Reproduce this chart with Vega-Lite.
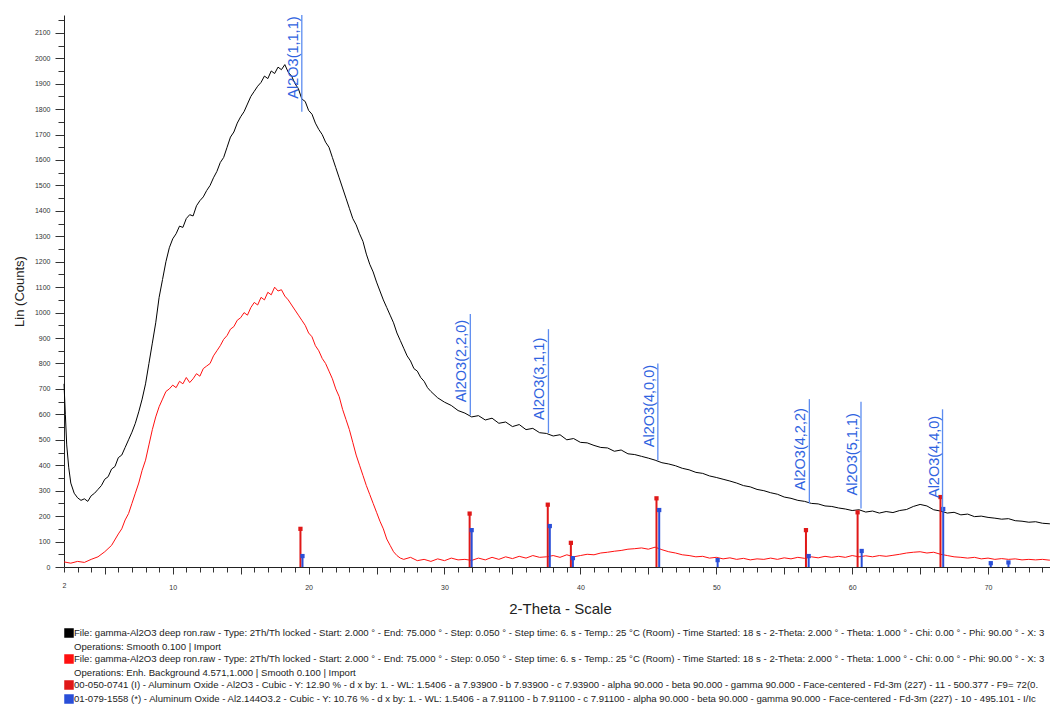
{
  "$schema": "https://vega.github.io/schema/vega-lite/v6.json",
  "width": 992,
  "height": 552,
  "padding": {"left": 13, "top": 15, "right": 0, "bottom": 0},
  "background": "white",
  "config": {
    "view": {"stroke": null},
    "font": "Liberation Sans",
    "axis": {"labelOverlap": false},
    "style": {"guide-label": {"lineHeight": 13.6}}
  },
  "datasets": {
    "scan": [
      {"t":2.0,"c":720,"s":"s1"},{"t":2.1,"c":600,"s":"s1"},{"t":2.2,"c":480,"s":"s1"},{"t":2.35,"c":390,"s":"s1"},{"t":2.5,"c":330,"s":"s1"},{"t":2.75,"c":290,"s":"s1"},{"t":3.0,"c":272,"s":"s1"},{"t":3.25,"c":262,"s":"s1"},{"t":3.5,"c":268,"s":"s1"},{"t":3.75,"c":258,"s":"s1"},{"t":4.0,"c":280,"s":"s1"},{"t":4.25,"c":290,"s":"s1"},{"t":4.5,"c":305,"s":"s1"},{"t":4.75,"c":320,"s":"s1"},{"t":5.0,"c":345,"s":"s1"},{"t":5.25,"c":355,"s":"s1"},{"t":5.5,"c":385,"s":"s1"},{"t":5.75,"c":395,"s":"s1"},{"t":6.0,"c":430,"s":"s1"},{"t":6.25,"c":440,"s":"s1"},{"t":6.5,"c":470,"s":"s1"},{"t":6.75,"c":500,"s":"s1"},{"t":7.0,"c":530,"s":"s1"},{"t":7.25,"c":565,"s":"s1"},{"t":7.5,"c":610,"s":"s1"},{"t":7.75,"c":660,"s":"s1"},{"t":8.0,"c":720,"s":"s1"},{"t":8.25,"c":800,"s":"s1"},{"t":8.5,"c":880,"s":"s1"},{"t":8.75,"c":960,"s":"s1"},{"t":9.0,"c":1060,"s":"s1"},{"t":9.25,"c":1130,"s":"s1"},{"t":9.5,"c":1200,"s":"s1"},{"t":9.75,"c":1255,"s":"s1"},{"t":10.0,"c":1290,"s":"s1"},{"t":10.25,"c":1310,"s":"s1"},{"t":10.5,"c":1340,"s":"s1"},{"t":10.75,"c":1335,"s":"s1"},{"t":11.0,"c":1370,"s":"s1"},{"t":11.25,"c":1385,"s":"s1"},{"t":11.5,"c":1380,"s":"s1"},{"t":11.75,"c":1420,"s":"s1"},{"t":12.0,"c":1440,"s":"s1"},{"t":12.25,"c":1455,"s":"s1"},{"t":12.5,"c":1480,"s":"s1"},{"t":12.75,"c":1500,"s":"s1"},{"t":13.0,"c":1530,"s":"s1"},{"t":13.25,"c":1555,"s":"s1"},{"t":13.5,"c":1590,"s":"s1"},{"t":13.75,"c":1610,"s":"s1"},{"t":14.0,"c":1650,"s":"s1"},{"t":14.25,"c":1690,"s":"s1"},{"t":14.5,"c":1710,"s":"s1"},{"t":14.75,"c":1745,"s":"s1"},{"t":15.0,"c":1770,"s":"s1"},{"t":15.25,"c":1790,"s":"s1"},{"t":15.5,"c":1820,"s":"s1"},{"t":15.75,"c":1850,"s":"s1"},{"t":16.0,"c":1870,"s":"s1"},{"t":16.25,"c":1890,"s":"s1"},{"t":16.5,"c":1905,"s":"s1"},{"t":16.75,"c":1930,"s":"s1"},{"t":17.0,"c":1920,"s":"s1"},{"t":17.25,"c":1950,"s":"s1"},{"t":17.5,"c":1940,"s":"s1"},{"t":17.75,"c":1965,"s":"s1"},{"t":18.0,"c":1955,"s":"s1"},{"t":18.25,"c":1975,"s":"s1"},{"t":18.5,"c":1945,"s":"s1"},{"t":18.75,"c":1930,"s":"s1"},{"t":19.0,"c":1900,"s":"s1"},{"t":19.25,"c":1880,"s":"s1"},{"t":19.5,"c":1840,"s":"s1"},{"t":19.75,"c":1830,"s":"s1"},{"t":20.0,"c":1795,"s":"s1"},{"t":20.25,"c":1780,"s":"s1"},{"t":20.5,"c":1745,"s":"s1"},{"t":20.75,"c":1720,"s":"s1"},{"t":21.0,"c":1700,"s":"s1"},{"t":21.25,"c":1670,"s":"s1"},{"t":21.5,"c":1650,"s":"s1"},{"t":21.75,"c":1610,"s":"s1"},{"t":22.0,"c":1570,"s":"s1"},{"t":22.25,"c":1530,"s":"s1"},{"t":22.5,"c":1490,"s":"s1"},{"t":22.75,"c":1450,"s":"s1"},{"t":23.0,"c":1410,"s":"s1"},{"t":23.25,"c":1370,"s":"s1"},{"t":23.5,"c":1345,"s":"s1"},{"t":23.75,"c":1310,"s":"s1"},{"t":24.0,"c":1280,"s":"s1"},{"t":24.25,"c":1230,"s":"s1"},{"t":24.5,"c":1190,"s":"s1"},{"t":24.75,"c":1160,"s":"s1"},{"t":25.0,"c":1120,"s":"s1"},{"t":25.25,"c":1085,"s":"s1"},{"t":25.5,"c":1050,"s":"s1"},{"t":25.75,"c":1020,"s":"s1"},{"t":26.0,"c":990,"s":"s1"},{"t":26.25,"c":960,"s":"s1"},{"t":26.5,"c":920,"s":"s1"},{"t":26.75,"c":890,"s":"s1"},{"t":27.0,"c":860,"s":"s1"},{"t":27.25,"c":830,"s":"s1"},{"t":27.5,"c":810,"s":"s1"},{"t":27.75,"c":780,"s":"s1"},{"t":28.0,"c":770,"s":"s1"},{"t":28.25,"c":745,"s":"s1"},{"t":28.5,"c":730,"s":"s1"},{"t":28.75,"c":705,"s":"s1"},{"t":29.0,"c":690,"s":"s1"},{"t":29.5,"c":665,"s":"s1"},{"t":30.0,"c":648,"s":"s1"},{"t":30.5,"c":635,"s":"s1"},{"t":31.0,"c":615,"s":"s1"},{"t":31.5,"c":605,"s":"s1"},{"t":32.0,"c":590,"s":"s1"},{"t":32.5,"c":595,"s":"s1"},{"t":33.0,"c":578,"s":"s1"},{"t":33.5,"c":585,"s":"s1"},{"t":34.0,"c":565,"s":"s1"},{"t":34.5,"c":570,"s":"s1"},{"t":35.0,"c":552,"s":"s1"},{"t":35.5,"c":560,"s":"s1"},{"t":36.0,"c":540,"s":"s1"},{"t":36.5,"c":545,"s":"s1"},{"t":37.0,"c":528,"s":"s1"},{"t":37.5,"c":525,"s":"s1"},{"t":38.0,"c":515,"s":"s1"},{"t":38.5,"c":520,"s":"s1"},{"t":39.0,"c":500,"s":"s1"},{"t":39.5,"c":505,"s":"s1"},{"t":40.0,"c":490,"s":"s1"},{"t":40.5,"c":488,"s":"s1"},{"t":41.0,"c":478,"s":"s1"},{"t":41.5,"c":470,"s":"s1"},{"t":42.0,"c":468,"s":"s1"},{"t":42.5,"c":455,"s":"s1"},{"t":43.0,"c":460,"s":"s1"},{"t":43.5,"c":445,"s":"s1"},{"t":44.0,"c":442,"s":"s1"},{"t":44.5,"c":435,"s":"s1"},{"t":45.0,"c":428,"s":"s1"},{"t":45.5,"c":420,"s":"s1"},{"t":46.0,"c":410,"s":"s1"},{"t":46.5,"c":405,"s":"s1"},{"t":47.0,"c":398,"s":"s1"},{"t":47.5,"c":388,"s":"s1"},{"t":48.0,"c":382,"s":"s1"},{"t":48.5,"c":372,"s":"s1"},{"t":49.0,"c":368,"s":"s1"},{"t":49.5,"c":358,"s":"s1"},{"t":50.0,"c":352,"s":"s1"},{"t":50.5,"c":345,"s":"s1"},{"t":51.0,"c":338,"s":"s1"},{"t":51.5,"c":330,"s":"s1"},{"t":52.0,"c":320,"s":"s1"},{"t":52.5,"c":315,"s":"s1"},{"t":53.0,"c":305,"s":"s1"},{"t":53.5,"c":300,"s":"s1"},{"t":54.0,"c":292,"s":"s1"},{"t":54.5,"c":286,"s":"s1"},{"t":55.0,"c":275,"s":"s1"},{"t":55.5,"c":270,"s":"s1"},{"t":56.0,"c":262,"s":"s1"},{"t":56.5,"c":258,"s":"s1"},{"t":57.0,"c":250,"s":"s1"},{"t":57.5,"c":248,"s":"s1"},{"t":58.0,"c":240,"s":"s1"},{"t":58.5,"c":238,"s":"s1"},{"t":59.0,"c":232,"s":"s1"},{"t":59.5,"c":228,"s":"s1"},{"t":60.0,"c":222,"s":"s1"},{"t":60.5,"c":225,"s":"s1"},{"t":61.0,"c":216,"s":"s1"},{"t":61.5,"c":220,"s":"s1"},{"t":62.0,"c":212,"s":"s1"},{"t":62.5,"c":218,"s":"s1"},{"t":63.0,"c":214,"s":"s1"},{"t":63.5,"c":222,"s":"s1"},{"t":64.0,"c":226,"s":"s1"},{"t":64.5,"c":238,"s":"s1"},{"t":65.0,"c":246,"s":"s1"},{"t":65.5,"c":240,"s":"s1"},{"t":66.0,"c":225,"s":"s1"},{"t":66.5,"c":220,"s":"s1"},{"t":67.0,"c":212,"s":"s1"},{"t":67.5,"c":215,"s":"s1"},{"t":68.0,"c":205,"s":"s1"},{"t":68.5,"c":208,"s":"s1"},{"t":69.0,"c":198,"s":"s1"},{"t":69.5,"c":200,"s":"s1"},{"t":70.0,"c":195,"s":"s1"},{"t":70.5,"c":192,"s":"s1"},{"t":71.0,"c":188,"s":"s1"},{"t":71.5,"c":190,"s":"s1"},{"t":72.0,"c":182,"s":"s1"},{"t":72.5,"c":180,"s":"s1"},{"t":73.0,"c":176,"s":"s1"},{"t":73.5,"c":178,"s":"s1"},{"t":74.0,"c":172,"s":"s1"},{"t":74.5,"c":170,"s":"s1"},{"t":75.0,"c":168,"s":"s1"},
      {"t":2.0,"c":20,"s":"s2"},{"t":2.5,"c":15,"s":"s2"},{"t":3.0,"c":22,"s":"s2"},{"t":3.5,"c":18,"s":"s2"},{"t":4.0,"c":30,"s":"s2"},{"t":4.5,"c":40,"s":"s2"},{"t":5.0,"c":60,"s":"s2"},{"t":5.5,"c":85,"s":"s2"},{"t":6.0,"c":130,"s":"s2"},{"t":6.25,"c":150,"s":"s2"},{"t":6.5,"c":185,"s":"s2"},{"t":6.75,"c":210,"s":"s2"},{"t":7.0,"c":250,"s":"s2"},{"t":7.25,"c":290,"s":"s2"},{"t":7.5,"c":330,"s":"s2"},{"t":7.75,"c":380,"s":"s2"},{"t":8.0,"c":420,"s":"s2"},{"t":8.25,"c":480,"s":"s2"},{"t":8.5,"c":540,"s":"s2"},{"t":8.75,"c":590,"s":"s2"},{"t":9.0,"c":630,"s":"s2"},{"t":9.25,"c":660,"s":"s2"},{"t":9.5,"c":690,"s":"s2"},{"t":9.75,"c":700,"s":"s2"},{"t":10.0,"c":715,"s":"s2"},{"t":10.25,"c":705,"s":"s2"},{"t":10.5,"c":730,"s":"s2"},{"t":10.75,"c":720,"s":"s2"},{"t":11.0,"c":745,"s":"s2"},{"t":11.25,"c":725,"s":"s2"},{"t":11.5,"c":740,"s":"s2"},{"t":11.75,"c":760,"s":"s2"},{"t":12.0,"c":750,"s":"s2"},{"t":12.25,"c":780,"s":"s2"},{"t":12.5,"c":790,"s":"s2"},{"t":12.75,"c":800,"s":"s2"},{"t":13.0,"c":830,"s":"s2"},{"t":13.25,"c":850,"s":"s2"},{"t":13.5,"c":870,"s":"s2"},{"t":13.75,"c":895,"s":"s2"},{"t":14.0,"c":910,"s":"s2"},{"t":14.25,"c":935,"s":"s2"},{"t":14.5,"c":945,"s":"s2"},{"t":14.75,"c":970,"s":"s2"},{"t":15.0,"c":980,"s":"s2"},{"t":15.25,"c":1000,"s":"s2"},{"t":15.5,"c":990,"s":"s2"},{"t":15.75,"c":1020,"s":"s2"},{"t":16.0,"c":1040,"s":"s2"},{"t":16.25,"c":1030,"s":"s2"},{"t":16.5,"c":1060,"s":"s2"},{"t":16.75,"c":1050,"s":"s2"},{"t":17.0,"c":1080,"s":"s2"},{"t":17.25,"c":1070,"s":"s2"},{"t":17.5,"c":1100,"s":"s2"},{"t":17.75,"c":1085,"s":"s2"},{"t":18.0,"c":1090,"s":"s2"},{"t":18.25,"c":1065,"s":"s2"},{"t":18.5,"c":1050,"s":"s2"},{"t":18.75,"c":1030,"s":"s2"},{"t":19.0,"c":1010,"s":"s2"},{"t":19.25,"c":990,"s":"s2"},{"t":19.5,"c":970,"s":"s2"},{"t":19.75,"c":950,"s":"s2"},{"t":20.0,"c":920,"s":"s2"},{"t":20.25,"c":905,"s":"s2"},{"t":20.5,"c":870,"s":"s2"},{"t":20.75,"c":850,"s":"s2"},{"t":21.0,"c":820,"s":"s2"},{"t":21.25,"c":800,"s":"s2"},{"t":21.5,"c":770,"s":"s2"},{"t":21.75,"c":740,"s":"s2"},{"t":22.0,"c":700,"s":"s2"},{"t":22.25,"c":670,"s":"s2"},{"t":22.5,"c":620,"s":"s2"},{"t":22.75,"c":580,"s":"s2"},{"t":23.0,"c":540,"s":"s2"},{"t":23.25,"c":490,"s":"s2"},{"t":23.5,"c":440,"s":"s2"},{"t":23.75,"c":400,"s":"s2"},{"t":24.0,"c":360,"s":"s2"},{"t":24.25,"c":320,"s":"s2"},{"t":24.5,"c":285,"s":"s2"},{"t":24.75,"c":250,"s":"s2"},{"t":25.0,"c":215,"s":"s2"},{"t":25.25,"c":180,"s":"s2"},{"t":25.5,"c":150,"s":"s2"},{"t":25.75,"c":110,"s":"s2"},{"t":26.0,"c":85,"s":"s2"},{"t":26.25,"c":60,"s":"s2"},{"t":26.5,"c":45,"s":"s2"},{"t":26.75,"c":35,"s":"s2"},{"t":27.0,"c":30,"s":"s2"},{"t":27.5,"c":38,"s":"s2"},{"t":28.0,"c":25,"s":"s2"},{"t":28.5,"c":30,"s":"s2"},{"t":29.0,"c":22,"s":"s2"},{"t":29.5,"c":32,"s":"s2"},{"t":30.0,"c":25,"s":"s2"},{"t":30.5,"c":35,"s":"s2"},{"t":31.0,"c":28,"s":"s2"},{"t":31.5,"c":30,"s":"s2"},{"t":32.0,"c":26,"s":"s2"},{"t":32.5,"c":35,"s":"s2"},{"t":33.0,"c":28,"s":"s2"},{"t":33.5,"c":38,"s":"s2"},{"t":34.0,"c":30,"s":"s2"},{"t":34.5,"c":40,"s":"s2"},{"t":35.0,"c":33,"s":"s2"},{"t":35.5,"c":42,"s":"s2"},{"t":36.0,"c":35,"s":"s2"},{"t":36.5,"c":45,"s":"s2"},{"t":37.0,"c":38,"s":"s2"},{"t":37.5,"c":40,"s":"s2"},{"t":38.0,"c":45,"s":"s2"},{"t":38.5,"c":38,"s":"s2"},{"t":39.0,"c":48,"s":"s2"},{"t":39.5,"c":40,"s":"s2"},{"t":40.0,"c":45,"s":"s2"},{"t":40.5,"c":50,"s":"s2"},{"t":41.0,"c":48,"s":"s2"},{"t":41.5,"c":55,"s":"s2"},{"t":42.0,"c":58,"s":"s2"},{"t":42.5,"c":62,"s":"s2"},{"t":43.0,"c":65,"s":"s2"},{"t":43.5,"c":70,"s":"s2"},{"t":44.0,"c":72,"s":"s2"},{"t":44.5,"c":75,"s":"s2"},{"t":45.0,"c":70,"s":"s2"},{"t":45.5,"c":78,"s":"s2"},{"t":46.0,"c":68,"s":"s2"},{"t":46.5,"c":60,"s":"s2"},{"t":47.0,"c":55,"s":"s2"},{"t":47.5,"c":48,"s":"s2"},{"t":48.0,"c":45,"s":"s2"},{"t":48.5,"c":40,"s":"s2"},{"t":49.0,"c":42,"s":"s2"},{"t":49.5,"c":35,"s":"s2"},{"t":50.0,"c":38,"s":"s2"},{"t":50.5,"c":32,"s":"s2"},{"t":51.0,"c":36,"s":"s2"},{"t":51.5,"c":30,"s":"s2"},{"t":52.0,"c":34,"s":"s2"},{"t":52.5,"c":28,"s":"s2"},{"t":53.0,"c":32,"s":"s2"},{"t":53.5,"c":30,"s":"s2"},{"t":54.0,"c":35,"s":"s2"},{"t":54.5,"c":30,"s":"s2"},{"t":55.0,"c":36,"s":"s2"},{"t":55.5,"c":32,"s":"s2"},{"t":56.0,"c":38,"s":"s2"},{"t":56.5,"c":34,"s":"s2"},{"t":57.0,"c":40,"s":"s2"},{"t":57.5,"c":36,"s":"s2"},{"t":58.0,"c":42,"s":"s2"},{"t":58.5,"c":38,"s":"s2"},{"t":59.0,"c":42,"s":"s2"},{"t":59.5,"c":38,"s":"s2"},{"t":60.0,"c":45,"s":"s2"},{"t":60.5,"c":40,"s":"s2"},{"t":61.0,"c":44,"s":"s2"},{"t":61.5,"c":40,"s":"s2"},{"t":62.0,"c":45,"s":"s2"},{"t":62.5,"c":42,"s":"s2"},{"t":63.0,"c":46,"s":"s2"},{"t":63.5,"c":50,"s":"s2"},{"t":64.0,"c":55,"s":"s2"},{"t":64.5,"c":58,"s":"s2"},{"t":65.0,"c":60,"s":"s2"},{"t":65.5,"c":55,"s":"s2"},{"t":66.0,"c":58,"s":"s2"},{"t":66.5,"c":50,"s":"s2"},{"t":67.0,"c":45,"s":"s2"},{"t":67.5,"c":40,"s":"s2"},{"t":68.0,"c":38,"s":"s2"},{"t":68.5,"c":35,"s":"s2"},{"t":69.0,"c":38,"s":"s2"},{"t":69.5,"c":32,"s":"s2"},{"t":70.0,"c":35,"s":"s2"},{"t":70.5,"c":30,"s":"s2"},{"t":71.0,"c":33,"s":"s2"},{"t":71.5,"c":30,"s":"s2"},{"t":72.0,"c":32,"s":"s2"},{"t":72.5,"c":28,"s":"s2"},{"t":73.0,"c":30,"s":"s2"},{"t":73.5,"c":28,"s":"s2"},{"t":74.0,"c":30,"s":"s2"},{"t":74.5,"c":27,"s":"s2"},{"t":75.0,"c":28,"s":"s2"}
    ],
    "sticks": [
      {"t":19.4,"h":150,"s":"s3"},{"t":31.85,"h":210,"s":"s3"},{"t":37.6,"h":245,"s":"s3"},{"t":39.3,"h":95,"s":"s3"},{"t":45.6,"h":270,"s":"s3"},{"t":56.6,"h":145,"s":"s3"},{"t":60.4,"h":215,"s":"s3"},{"t":66.5,"h":275,"s":"s3"},
      {"t":19.55,"h":43,"s":"s4"},{"t":32.0,"h":145,"s":"s4"},{"t":37.75,"h":161,"s":"s4"},{"t":39.45,"h":35,"s":"s4"},{"t":45.8,"h":224,"s":"s4"},{"t":50.1,"h":27,"s":"s4"},{"t":56.8,"h":43,"s":"s4"},{"t":60.7,"h":63,"s":"s4"},{"t":66.7,"h":228,"s":"s4"},{"t":70.2,"h":15,"s":"s4"},{"t":71.5,"h":18,"s":"s4"}
    ],
    "labels": [
      {"t":19.5,"base":1790,"top":2170,"label":"Al2O3(1,1,1)"},
      {"t":31.9,"base":597,"top":995,"label":"Al2O3(2,2,0)"},
      {"t":37.65,"base":527,"top":935,"label":"Al2O3(3,1,1)"},
      {"t":45.7,"base":420,"top":800,"label":"Al2O3(4,0,0)"},
      {"t":56.85,"base":250,"top":660,"label":"Al2O3(4,2,2)"},
      {"t":60.65,"base":230,"top":650,"label":"Al2O3(5,1,1)"},
      {"t":66.65,"base":220,"top":620,"label":"Al2O3(4,4,0)"}
    ]
  },
  "layer": [
    {
      "data": {"name": "scan"},
      "mark": {"type": "line", "strokeWidth": 1},
      "encoding": {
        "x": {
          "field": "t",
          "type": "quantitative",
          "scale": {"domain": [2, 75], "nice": false, "zero": false},
          "axis": {
            "title": "2-Theta - Scale",
            "titleFontSize": 15,
            "titleFontWeight": "normal",
            "titleColor": "#222",
            "titlePadding": 11,
            "tickCount": 500,
            "format": "d",
            "values": [2,3,4,5,6,7,8,9,10,11,12,13,14,15,16,17,18,19,20,21,22,23,24,25,26,27,28,29,30,31,32,33,34,35,36,37,38,39,40,41,42,43,44,45,46,47,48,49,50,51,52,53,54,55,56,57,58,59,60,61,62,63,64,65,66,67,68,69,70,71,72,73,74,75],
            "labelExpr": "(datum.value == 2 || datum.value % 10 == 0) ? datum.label : ''",
            "labelFontSize": 7,
            "labelColor": "#333",
            "labelPadding": 9,
            "tickSize": {"condition": {"test": "datum.value % 5 == 0", "value": 7}, "value": 5},
            "tickColor": "#333",
            "domainColor": "#222",
            "grid": false,
            "labelOverlap": false,
            "labelFlush": false
          }
        },
        "y": {
          "field": "c",
          "type": "quantitative",
          "scale": {"domain": [0, 2170], "nice": false},
          "axis": {
            "title": "Lin (Counts)",
            "titleFontSize": 13,
            "titleFontWeight": "normal",
            "titleColor": "#222",
            "titlePadding": 8,
            "tickCount": 500,
            "values": [0,50,100,150,200,250,300,350,400,450,500,550,600,650,700,750,800,850,900,950,1000,1050,1100,1150,1200,1250,1300,1350,1400,1450,1500,1550,1600,1650,1700,1750,1800,1850,1900,1950,2000,2050,2100,2150],
            "labelExpr": "datum.value % 100 == 0 ? datum.label : ''",
            "format": "d",
            "labelFontSize": 7,
            "labelColor": "#333",
            "labelPadding": 5,
            "tickSize": {"condition": {"test": "datum.value % 100 == 0", "value": 9}, "value": 6},
            "tickColor": "#333",
            "domainColor": "#222",
            "grid": false,
            "labelOverlap": false
          }
        },
        "color": {"field": "s", "type": "nominal",
          "scale": {"domain": ["s1","s2","s3","s4"], "range": ["#000000","#ff1010","#e01818","#2a4fd8"]},
          "legend": {
            "orient": "bottom",
            "direction": "vertical",
            "columns": 1,
            "title": null,
            "offset": 12,
            "symbolType": "square",
            "symbolSize": 64,
            "symbolStrokeWidth": 1.5,
            "labelFontSize": 9.6,
            "labelColor": "#222",
            "labelLimit": 3000,
            "labelOffset": 0,
            "rowPadding": 0,
            "labelExpr": "datum.value == 's1' ? ['File: gamma-Al2O3 deep ron.raw - Type: 2Th/Th locked - Start: 2.000 ° - End: 75.000 ° - Step: 0.050 ° - Step time: 6. s - Temp.: 25 °C (Room) - Time Started: 18 s - 2-Theta: 2.000 ° - Theta: 1.000 ° - Chi: 0.00 ° - Phi: 90.00 ° - X: 3', 'Operations: Smooth 0.100 | Import'] : datum.value == 's2' ? ['File: gamma-Al2O3 deep ron.raw - Type: 2Th/Th locked - Start: 2.000 ° - End: 75.000 ° - Step: 0.050 ° - Step time: 6. s - Temp.: 25 °C (Room) - Time Started: 18 s - 2-Theta: 2.000 ° - Theta: 1.000 ° - Chi: 0.00 ° - Phi: 90.00 ° - X: 3', 'Operations: Enh. Background 4.571,1.000 | Smooth 0.100 | Import'] : datum.value == 's3' ? '00-050-0741 (I) - Aluminum Oxide - Al2O3 - Cubic - Y: 12.90 % - d x by: 1. - WL: 1.5406 - a 7.93900 - b 7.93900 - c 7.93900 - alpha 90.000 - beta 90.000 - gamma 90.000 - Face-centered - Fd-3m (227) - 11 - 500.377 - F9= 72(0.' : '01-079-1558 (*) - Aluminum Oxide - Al2.144O3.2 - Cubic - Y: 10.76 % - d x by: 1. - WL: 1.5406 - a 7.91100 - b 7.91100 - c 7.91100 - alpha 90.000 - beta 90.000 - gamma 90.000 - Face-centered - Fd-3m (227) - 10 - 495.101 - I/Ic'"
          }
        }
      }
    },
    {
      "data": {"name": "sticks"},
      "mark": {"type": "rule", "strokeWidth": 2},
      "encoding": {
        "x": {"field": "t", "type": "quantitative"},
        "y": {"field": "h", "type": "quantitative"},
        "y2": {"datum": 0},
        "color": {"field": "s", "type": "nominal"}
      }
    },
    {
      "data": {"name": "sticks"},
      "mark": {"type": "point", "shape": "square", "filled": true, "size": 18, "opacity": 1},
      "encoding": {
        "x": {"field": "t", "type": "quantitative"},
        "y": {"field": "h", "type": "quantitative"},
        "color": {"field": "s", "type": "nominal"}
      }
    },
    {
      "data": {"name": "labels"},
      "mark": {"type": "rule", "strokeWidth": 1.3, "color": "#5d8cf0", "clip": true},
      "encoding": {
        "x": {"field": "t", "type": "quantitative"},
        "y": {"field": "base", "type": "quantitative"},
        "y2": {"field": "top"}
      }
    },
    {
      "data": {"name": "labels"},
      "mark": {"type": "text", "angle": 270, "align": "left", "baseline": "bottom", "dx": 13, "dy": -1, "fontSize": 14.5, "color": "#2f63e0", "clip": true},
      "encoding": {
        "x": {"field": "t", "type": "quantitative"},
        "y": {"field": "base", "type": "quantitative"},
        "text": {"field": "label", "type": "nominal"}
      }
    }
  ]
}
